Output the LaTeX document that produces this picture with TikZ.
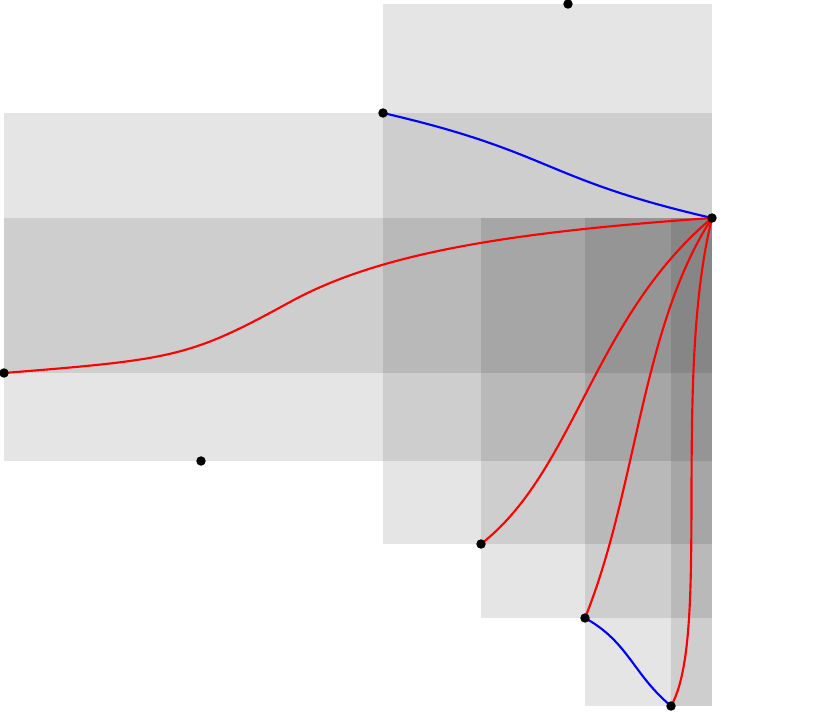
\documentclass[tikz,border=0pt]{standalone}
\begin{document}
\begin{tikzpicture}[x=0.75pt,y=-0.75pt,
  region/.style={fill=black,fill opacity=0.1},
  dot/.style={circle,fill=black,inner sep=0pt,minimum size=7.1pt},
  redc/.style={draw=red,line width=1.6pt},
  bluec/.style={draw=blue,line width=1.6pt}]
\useasboundingbox (0,0) rectangle (839,711);
% shaded regions
\fill[region] (383,4) rectangle (712,544);
\fill[region] (4,113) rectangle (712,461);
\fill[region] (4,218) rectangle (712,373);
\fill[region] (481,218) rectangle (712,618);
\fill[region] (585,218) rectangle (712,706);
\fill[region] (671,218) rectangle (712,706);
% point positions
\coordinate (pA) at (568,4);
\coordinate (pB) at (383,113);
\coordinate (pC) at (712,218);
\coordinate (pD) at (4,373);
\coordinate (pE) at (201,461);
\coordinate (pF) at (481,544);
\coordinate (pG) at (585,618);
\coordinate (pH) at (671,706);
\coordinate (mid) at (290,302);
% connectors
\draw[bluec] (pB) .. controls (552.6,152) and (542.4,179) .. (pC);
\draw[redc] (pD) .. controls (174,359.4) and (190,357) .. (mid)
  .. controls (380,252.5) and (512,232) .. (pC);
\draw[redc] (pF) .. controls (575.6,470.1) and (592.5,318.3) .. (pC);
\draw[redc] (pG) .. controls (637.4,488.2) and (641.2,327) .. (pC);
\draw[redc] (pH) .. controls (711,637) and (672,380) .. (pC);
\draw[bluec] (pG) .. controls (628.7,642.2) and (632.7,673.9) .. (pH);
% dots
\node[dot] (a) at (pA) {};
\node[dot] (b) at (pB) {};
\node[dot] (c) at (pC) {};
\node[dot] (d) at (pD) {};
\node[dot] (e) at (pE) {};
\node[dot] (f) at (pF) {};
\node[dot] (g) at (pG) {};
\node[dot] (h) at (pH) {};
\end{tikzpicture}
\end{document}
